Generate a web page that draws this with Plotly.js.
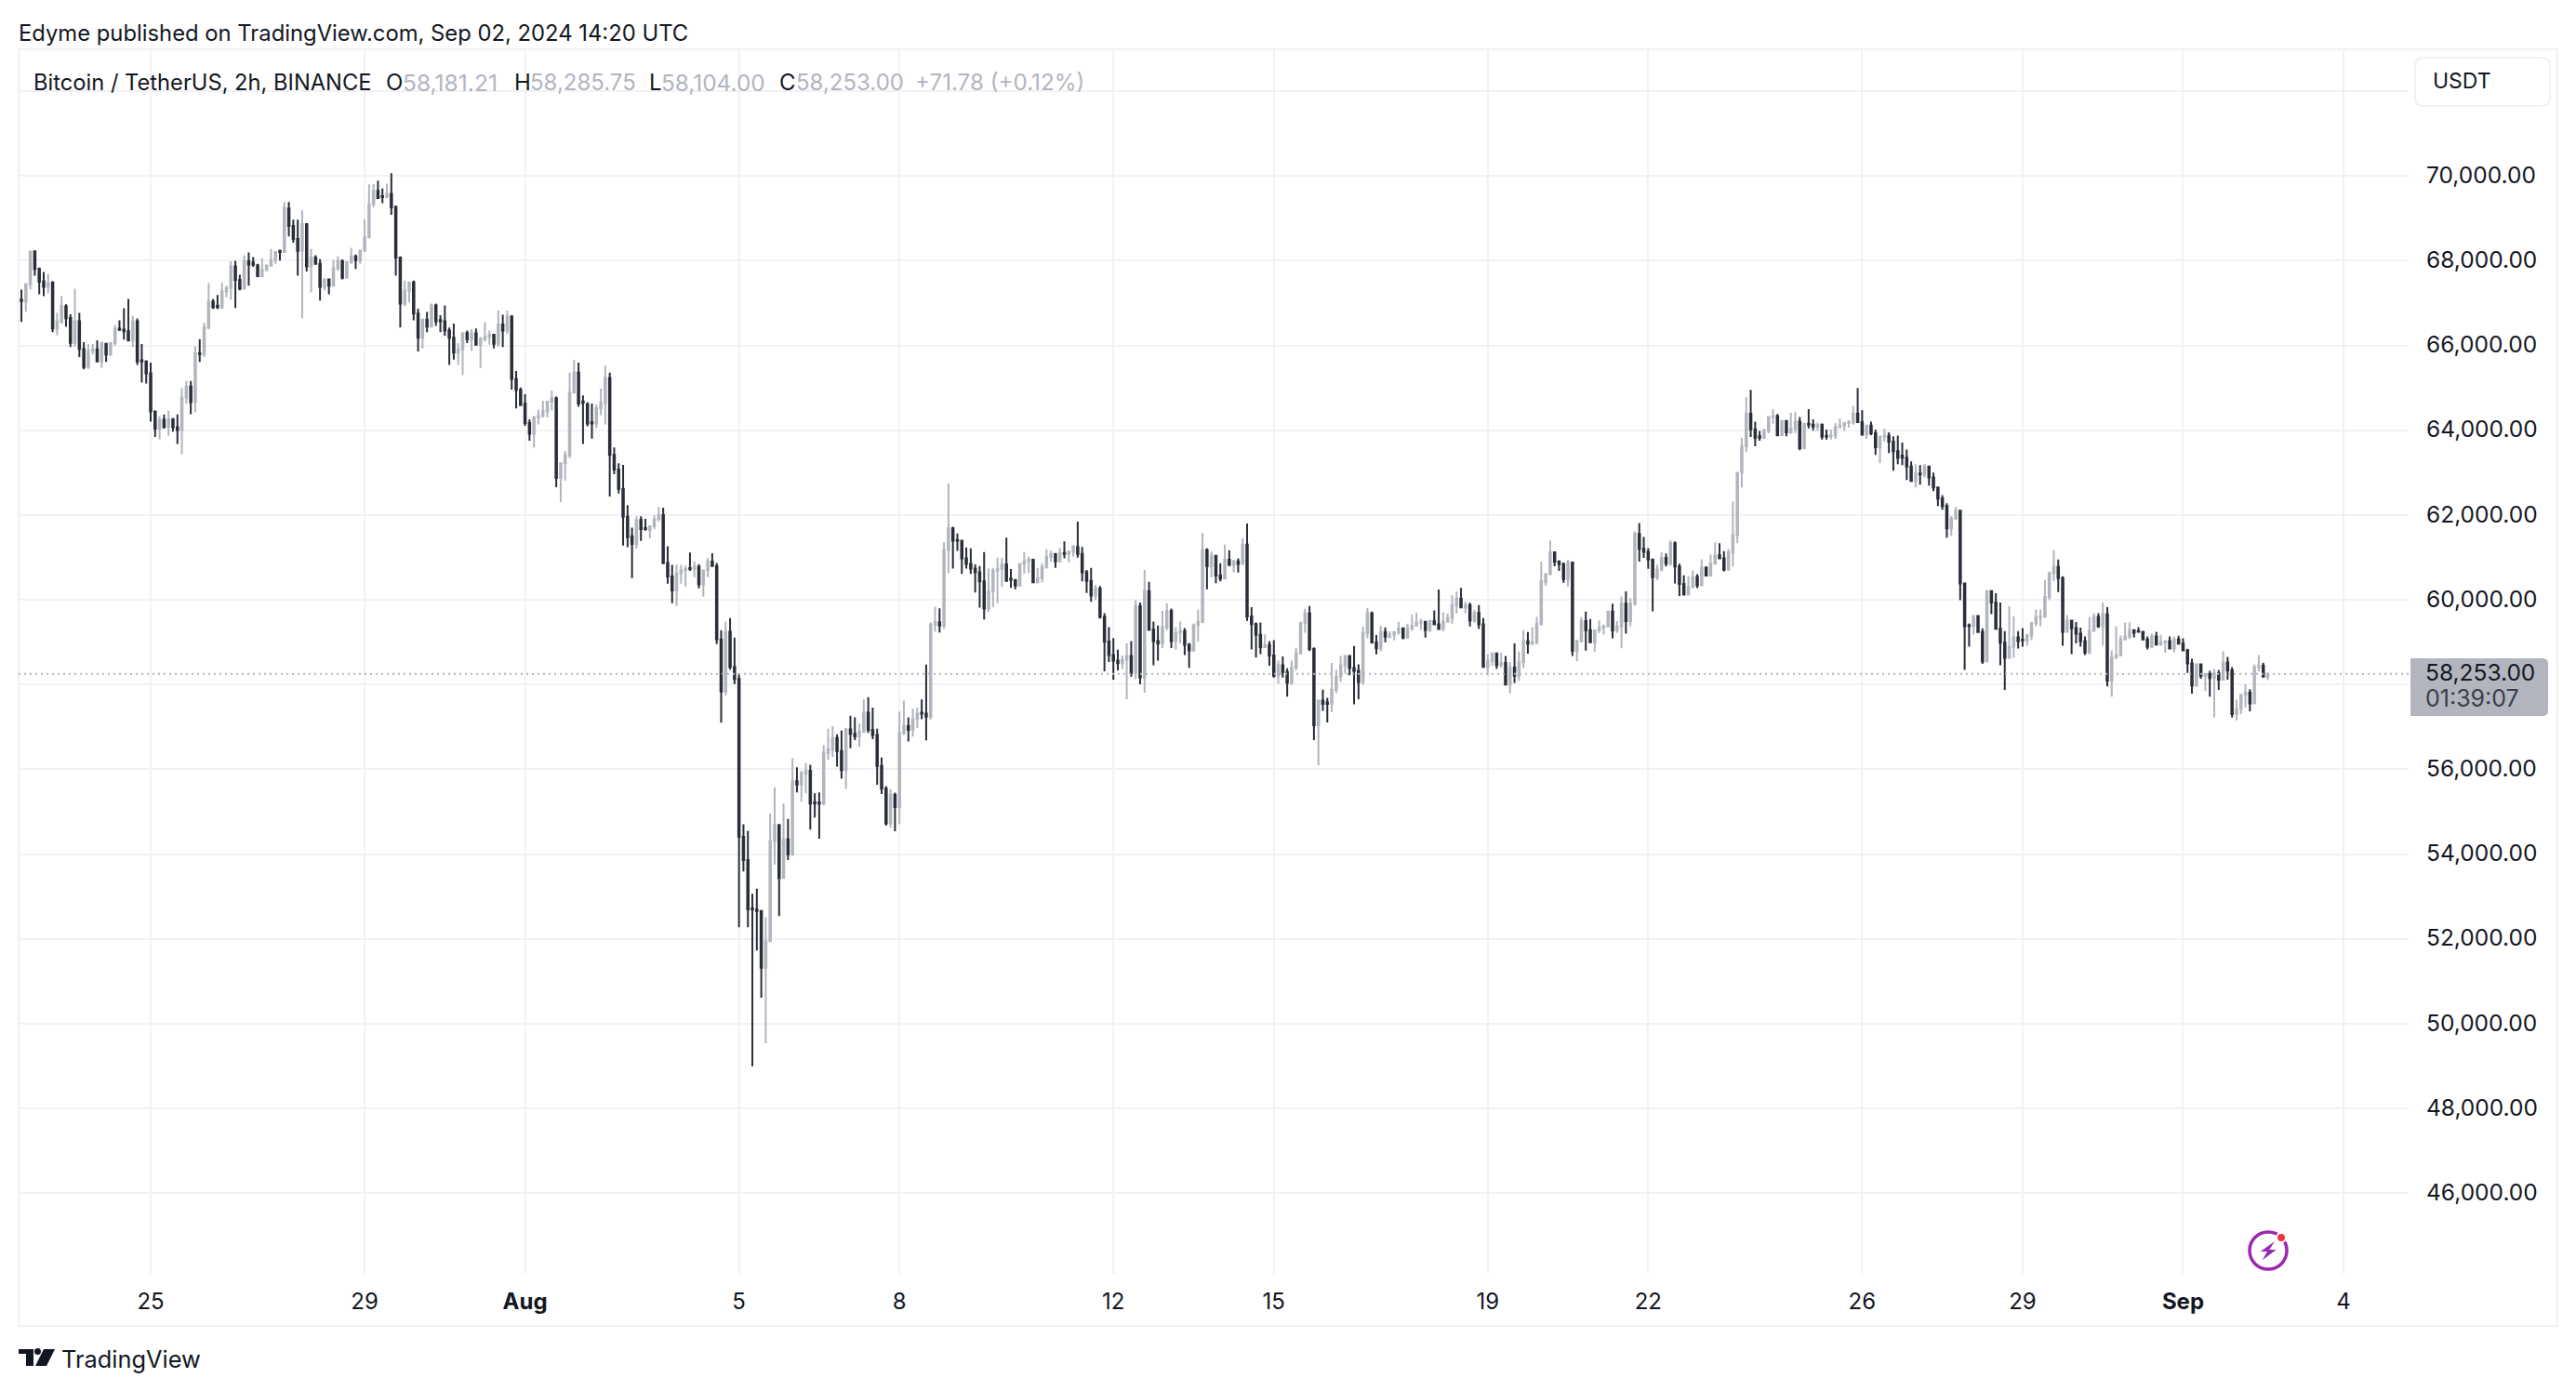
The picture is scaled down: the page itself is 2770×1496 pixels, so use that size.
<!DOCTYPE html>
<html><head><meta charset="utf-8">
<script src="https://cdn.plot.ly/plotly-3.0.1.min.js"></script>
<style>html,body{margin:0;padding:0;background:#fff}#c{width:2770px;height:1496px}</style>
</head><body><div id="c"></div>
<script>
const startTime = '2024-07-22T12:00:00Z';
const barHours = 2;
const opens = [
67060,67080,67040,67440,68220,67808,67515,67383,67486,66400,66550,66920,66650,66064,66570,65917,65492,65873,65910,65624,66040,65785,66057,66394,66372,66335,66123,66570,65650,65624,
65346,64444,64041,64246,64078,64261,64070,64004,64774,65030,64664,65815,
65800,66423,67031,66940,66900,67281,67354,67867,67545,67340,67984,67955,
67890,67633,67779,67880,68014,68234,68204,69230,68820,68512,68234,68864,
67867,68072,67926,67383,67559,67413,67816,67984,67596,67962,68102,68014,
68234,68549,69333,69648,69520,69502,69575,69275,68072,66988,67295,67486,
66753,66181,66606,66445,66944,66600,66570,66350,66181,65829,65910,66291,
66152,66284,66020,66145,66203,66255,66042,66497,66350,66680,65214,64950,
64632,64171,63915,64303,64339,64442,64676,64757,62876,63220,63417,64888,
65357,64680,64610,64190,64157,64522,64647,65232,63417,63074,62620,61961,
61500,61318,61881,61690,61640,61735,61903,61998,60871,60549,60220,60622,
60695,60750,60732,60783,60366,60695,60900,60798,59067,57834,59246,58418,
58134,54412,53860,52725,52693,52660,51322,51946,54307,54688,53439,54347,
53998,55718,55645,55904,55969,55225,55220,55191,56391,56472,56740,56431,
55985,56942,56837,56780,56894,57340,56934,56812,56083,55547,54728,55401,
55109,56861,57023,56934,57186,57340,57315,57242,59416,59473,59392,61177,
61687,61410,61396,60980,60849,60740,60652,60434,59793,60208,60689,60725,
60834,60500,60470,60339,60849,60907,60944,60412,60507,60776,61009,61082,
60907,61104,61082,61140,61250,61082,60652,60448,60099,60266,59596,59013,
58700,58568,58503,58590,58678,58277,59851,58168,60208,59297,59028,58969,
59355,59741,59028,59224,59261,58940,58809,59406,59479,61177,60798,61038,
60572,60499,60944,60827,60907,60849,61301,59610,59428,59173,58882,58933,
58685,58212,58459,58299,58044,58408,58736,59444,59677,58840,57042,57624,
57580,57544,57879,58185,58454,58673,58389,58323,58061,59219,59677,59000,
58855,59241,59131,59182,59233,59328,59110,59328,59386,59459,59481,59292,
59496,59423,59313,59481,59568,59874,60027,59823,59874,59510,59692,59423,
58418,58564,58738,58462,58512,58003,58403,58207,58534,59022,58964,58993,
59437,60420,60609,61119,60900,60842,60493,60879,58804,59022,59496,59284,
59000,59277,59350,59372,59721,59277,59372,59910,59496,59910,61556,61206,
61133,60951,60536,60718,60988,60857,61337,60784,60373,60124,60300,60542,
60344,60762,60571,60850,61050,60981,60710,61113,61531,62996,63619,64388,
64022,63860,63824,63985,64315,64337,63883,64220,63948,64036,64205,63575,
64154,64132,64088,64132,63870,63853,63875,64073,64117,64168,64183,64388,
64190,63897,64110,63926,63597,63853,63868,63729,63509,63400,63355,63143,
62806,62981,62959,63143,62886,62652,62388,62212,61685,61919,62102,60388,
59400,59384,59619,59238,58549,60205,59938,59318,58990,58633,58896,59114,
59060,59041,59158,59449,59588,59610,60069,60630,60775,60513,59245,59508,
59333,59202,59027,58765,59267,59595,59377,59661,58094,58633,58692,59063,
59129,59282,59265,59246,59063,58896,59136,58947,58998,59027,58852,59063,
58968,58808,58502,57978,58480,58211,58247,58153,58262,58116,58524,58335,
57307,57424,57759,57810,57555,58407,58444,58181.21];
const highs = [
67520,67317,67449,68234,68234,67838,67735,67691,67515,66775,67164,66973,66738,67339,66768,66079,66035,66035,66123,66093,66064,66057,66482,66592,66878,67098,66702,66636,66035,65653,
65595,64459,64334,64371,64459,64276,64371,64994,65162,65162,65976,66152,
66533,67471,67098,67193,67486,67413,67984,67999,67669,68131,68197,68087,
67926,68058,67889,68278,68219,68263,69384,69384,68967,68967,69187,68864,
68278,68131,68036,67574,67559,68014,68102,68028,67984,68307,68146,68248,
68981,69802,69802,69890,69700,69817,70066,69282,68102,67530,67500,67530,
66870,66643,66790,66988,66988,66716,66944,66423,66518,66057,66313,66350,
66386,66401,66203,66548,66350,66255,66826,66724,66826,66716,65397,65008,
64852,64259,64339,64486,64698,64698,64939,64793,63242,63513,65357,65657,
65598,64822,64661,64632,64610,64983,65525,65357,63593,63220,63183,62232,
61705,61969,61969,61910,61735,61991,62196,62173,61266,60827,60827,60827,
60805,61113,60915,60842,60710,60988,61098,60871,59286,59489,59570,59108,
58272,54704,54550,53066,53187,52644,52514,54963,55580,54704,55191,54834,
56269,56050,55969,56148,56107,55434,55458,56577,56958,57023,56829,56918,
56983,57267,57226,57080,57648,57705,57461,56958,56277,55604,55531,55450,
57364,57624,57226,57429,57461,57648,58475,59473,59838,59797,61359,62743,
61723,61563,61374,61235,61213,60834,60798,61126,60740,60754,60995,60995,
61468,60725,60470,60864,61126,61017,60944,60754,60864,61191,61162,61082,
61228,61381,61140,61286,61847,61250,60703,60754,60354,60324,59683,59355,
59100,58824,58685,58977,59028,59989,59938,60703,60427,59487,59392,59741,
59916,59793,59355,59487,59334,58984,59443,59771,61578,61213,61140,61053,
60864,61301,61170,60944,60980,61454,61803,59829,59465,59465,59188,59028,
59050,58569,58663,58386,58569,58867,59480,59787,59852,58877,57639,57879,
57690,58513,58345,58673,58687,58673,58913,58476,59364,59808,59721,59168,
59386,59350,59255,59262,59481,59350,59437,59656,59699,59546,59503,59503,
59750,60245,59699,59677,60114,60202,60282,59954,59932,59765,59874,59568,
58716,58753,58746,58746,58673,58527,58971,58782,59284,59241,59350,59605,
60900,60624,61403,61133,60937,60879,60944,60900,59059,59590,59721,59546,
59277,59517,59423,59736,59910,59496,60078,60202,60041,61621,61810,61483,
61221,60966,60828,61113,61091,61399,61377,60850,60578,60564,60688,60608,
60959,60784,61069,61355,61333,61150,61201,62322,62996,63824,64776,64952,
64205,63985,64036,64322,64498,64381,64234,64234,64410,64425,64315,64168,
64498,64256,64183,64161,64014,64014,64168,64278,64183,64241,64571,64996,
64469,64132,64205,64014,63860,64036,63948,63860,63875,63707,63545,63267,
63201,63179,63201,63135,63003,62674,62469,62278,61970,62190,62102,60410,
59443,59633,59633,59326,60212,60212,60156,59938,59260,59850,59610,59260,
59333,59202,59464,59770,59770,60469,60666,61169,60950,60557,59639,59508,
59478,59347,59136,59595,59683,59683,59938,59828,58808,59377,59158,59464,
59464,59282,59355,59267,59136,59209,59246,59173,59041,59136,59136,59151,
59092,58845,58612,58502,58502,58262,58327,58371,58349,58786,58655,58415,
57642,57774,58007,57890,58480,58699,58517,58285.75];
const lows = [
67050,66555,66797,67325,67647,67208,67163,67230,66313,66240,66518,66438,65961,65976,65727,65434,65448,65785,65610,65470,65610,65756,65991,66343,66137,66093,65961,65543,65126,65104,
64202,63843,63784,64041,63872,63968,63674,63432,64627,64378,64422,65610,
65727,66386,66863,66863,66856,67134,67083,66885,67303,67325,67413,67852,
67633,67633,67765,67867,67926,68000,68182,68571,68424,67647,66643,67743,
67251,67911,67061,67303,67208,67398,67765,67559,67596,67926,67808,67926,
68234,68527,69260,69465,69355,69502,69084,67647,66423,66929,67017,66592,
65859,65932,66313,66438,66460,66313,66225,65543,65668,65543,65302,66057,
65873,66020,65470,66093,66020,65932,65976,65961,66276,64957,64517,64591,
64105,63754,63586,64135,64303,64303,64464,62657,62305,62818,63344,64881,
64552,63674,64091,63805,64047,64354,64135,62437,62964,62510,61281,61244,
60513,61208,61390,61632,61449,61669,61852,60842,60381,59920,59854,60381,
60315,60681,60535,60271,60074,60535,60798,58954,57104,57745,58353,58013,
52279,53593,52279,48995,51728,50616,49538,51930,53755,52539,53439,53860,
53958,55458,55239,55434,54582,54866,54363,55158,56229,56294,56066,55783,
55539,56496,56691,56529,56861,56861,56715,55636,55418,54671,54631,54542,
54712,56813,56658,56772,56975,57186,56683,57177,59246,59229,59319,60630,
60740,61155,60609,60740,60609,60171,59814,59538,59720,59829,59924,60303,
60448,60281,60252,60339,60609,60630,60412,60412,60412,60740,60900,60754,
60885,60980,60885,61017,60995,60434,60164,59953,59997,59559,58313,58532,
58117,58335,58372,57658,58190,58131,58008,57811,59268,58459,58568,58860,
59283,58860,58831,58969,58700,58394,58773,59013,59450,60252,60521,60390,
60434,60499,60798,60645,60645,60849,59501,58831,58641,58722,58882,58445,
58168,58022,58168,57716,57993,58335,58730,59226,58789,56693,56096,57384,
57108,57348,57799,58061,58258,58222,57537,57654,58003,59095,58964,58716,
58789,59000,59095,59044,59182,59073,59110,59270,59415,59292,59110,59241,
59408,59313,59262,59459,59437,59677,59808,59677,59372,59459,59313,58418,
58222,58440,58367,58396,57989,57799,58039,58090,58389,58731,58935,58949,
59386,60333,60580,60791,60682,60405,60311,58673,58549,59000,58804,59000,
58782,59219,59182,59350,59095,59219,58855,59204,59372,59859,60900,60988,
60733,59728,60464,60674,60784,60798,60388,60088,60124,60124,60285,60278,
60322,60564,60564,60835,60981,60674,60718,60784,61333,62652,63487,63839,
63619,63751,63795,63926,64154,63860,63883,63860,63912,63934,63531,63575,
64044,64000,63985,63780,63780,63780,63795,64058,63985,64058,64132,64190,
63883,63795,63883,63421,63223,63729,63465,63047,63201,63179,62828,62784,
62652,62718,62886,62696,62564,62212,62124,61465,61509,61883,59992,58344,
58893,59179,59223,58491,58527,59663,59318,58459,57876,58619,58633,58852,
58896,58918,59049,59377,59377,59573,59989,60448,60185,58918,59245,58721,
58969,58896,58699,58721,59245,59340,58918,57956,57715,58611,58677,59049,
59078,59114,59224,59049,58830,58867,58939,58918,58750,58838,58757,58947,
58808,58276,57788,57949,58138,57846,57715,57220,57876,58116,58116,57220,
57155,57307,57460,57373,57548,58313,58167,58104];
const closes = [
67080,67050,67450,68219,67808,67501,67383,67471,66401,66570,66929,66643,66064,66570,65917,65492,65873,65910,65624,66057,65785,66057,66394,66372,66335,66123,66570,65624,65624,65346,
64444,64041,64246,64078,64261,64070,64004,64774,65030,64664,65815,65800,
66423,67031,66900,66900,67281,67354,67867,67545,67340,67984,67911,67911,
67633,67779,67889,68014,68204,68204,69245,68820,68512,68234,68864,67867,
68072,67926,67383,67559,67413,67816,67984,67596,67962,68102,68014,68234,
68549,69333,69648,69480,69502,69575,69260,68072,66988,67295,67486,66753,
66181,66606,66445,66944,66570,66570,66350,66181,65829,65910,66291,66152,
66284,66020,66145,66203,66255,66042,66497,66350,66680,65214,64950,64591,
64171,63915,64303,64339,64449,64676,64757,62876,63220,63417,64888,65357,
64632,64647,64157,64157,64522,64647,65232,63417,63074,62620,61961,61478,
61318,61881,61669,61669,61735,61903,61998,60871,60549,60220,60622,60695,
60732,60732,60783,60366,60695,60900,60798,59071,57834,59246,58418,58134,
54412,53860,52701,52701,52660,51322,51946,54307,54688,53439,54347,53998,
55718,55645,55904,55969,55191,55191,55191,56391,56472,56740,56431,55985,
56942,56837,56780,56894,57340,56934,56812,56083,55547,54728,55401,55109,
56861,57023,56934,57186,57315,57315,57242,59416,59473,59392,61177,61687,
61396,61396,60980,60849,60740,60652,60434,59793,60208,60689,60725,60834,
60448,60470,60339,60849,60907,60944,60412,60507,60776,61009,61082,60907,
61104,61082,61140,61264,61082,60652,60448,60099,60266,59596,59013,58700,
58568,58503,58590,58678,58277,59851,58168,60208,59297,59028,58969,59355,
59741,59028,59224,59261,58940,58809,59406,59479,61177,60798,61038,60572,
60499,60944,60827,60907,60849,61301,59610,59428,59173,58882,58933,58685,
58212,58459,58299,58044,58408,58736,59460,59677,58840,57042,57624,57544,
57544,57879,58185,58454,58673,58389,58323,58061,59219,59677,59000,58855,
59241,59131,59182,59233,59328,59110,59328,59386,59459,59481,59292,59496,
59423,59313,59481,59568,59874,60027,59823,59874,59510,59692,59423,58418,
58564,58738,58462,58512,58003,58403,58207,58534,59022,58964,58993,59437,
60435,60609,61119,60900,60842,60493,60879,58804,59022,59496,59284,59000,
59277,59350,59372,59721,59277,59372,59910,59496,59910,61556,61206,61133,
60951,60536,60718,60988,60857,61337,60784,60373,60124,60300,60542,60344,
60762,60571,60850,61047,60981,60710,61113,61531,62996,63619,64388,64022,
63824,63824,63985,64315,64337,63883,64220,63948,64036,64205,63575,64154,
64132,64088,64132,63853,63853,63875,64073,64117,64168,64183,64388,64190,
63897,64110,63926,63597,63853,63868,63729,63509,63355,63355,63143,62806,
62981,62959,63143,62886,62652,62388,62212,61685,61919,62102,60388,59377,
59384,59619,59238,58549,60205,59938,59318,58990,58633,58896,59114,59027,
59041,59158,59449,59588,59610,60069,60630,60775,60513,59245,59508,59333,
59202,59027,58765,59267,59595,59377,59661,58094,58633,58692,59063,59129,
59282,59224,59246,59063,58896,59136,58947,58998,59027,58852,59063,58968,
58808,58502,57978,58480,58211,58247,58153,58262,58116,58524,58335,57307,
57424,57759,57810,57555,58407,58444,58189,58253];
const priceTicks = [46000,48000,50000,52000,54000,56000,58000,60000,62000,64000,66000,68000,70000,72000];
const priceLabels = ['46,000.00','48,000.00','50,000.00','52,000.00','54,000.00','56,000.00','','60,000.00','62,000.00','64,000.00','66,000.00','68,000.00','70,000.00',''];
const dateTicks = ['2024-07-25','2024-07-29','2024-08-01','2024-08-05','2024-08-08','2024-08-12','2024-08-15','2024-08-19','2024-08-22','2024-08-26','2024-08-29','2024-09-01','2024-09-04'];
const dateLabels = ['25','29','<b>Aug</b>','5','8','12','15','19','22','26','29','<b>Sep</b>','4'];
const lastPrice = 58253;

const times = closes.map((_, i) => new Date(Date.parse(startTime) + i * barHours * 3600000).toISOString());

const L = 20, R = 2590, T = 53, B = 1370;
const px = x => (x - L) / (R - L);
const py = y => (B - y) / (B - T);
const INK = '#131722', UP = '#b2b5be', DOWN = '#2a2e39', GRID = '#f2f2f6', FRAME = '#f0f0f6';
const FONT = 'Inter, "Noto Sans", sans-serif';

function poly(points){ return points.map((p,i)=>(i?'L':'M')+px(p[0])+' '+py(p[1])).join(' ')+' Z'; }
function rrect(x0,y0,x1,y1,rl,rr){
  return 'M'+px(x0+rl)+' '+py(y0)+' L'+px(x1-rr)+' '+py(y0)+' Q'+px(x1)+' '+py(y0)+' '+px(x1)+' '+py(y0+rr)+
   ' L'+px(x1)+' '+py(y1-rr)+' Q'+px(x1)+' '+py(y1)+' '+px(x1-rr)+' '+py(y1)+
   ' L'+px(x0+rl)+' '+py(y1)+' Q'+px(x0)+' '+py(y1)+' '+px(x0)+' '+py(y1-rl)+
   ' L'+px(x0)+' '+py(y0+rl)+' Q'+px(x0)+' '+py(y0)+' '+px(x0+rl)+' '+py(y0)+' Z';
}
function base(o){ return Object.assign({xref:'paper',yref:'paper'},o); }
const shapes = [
  base({type:'rect',x0:px(20),x1:px(2750),y0:py(1426),y1:py(53),line:{color:FRAME,width:2},layer:'below'}),
  {type:'line',xref:'paper',x0:0,x1:1,yref:'y',y0:lastPrice,y1:lastPrice,line:{color:UP,width:2,dash:'2px,4px'},layer:'above'},
  base({type:'path',path:rrect(2592,708,2740,770,0,6),fillcolor:UP,line:{width:0}}),
  base({type:'path',path:rrect(2597,62,2742,114,9,9),fillcolor:'#ffffff',line:{color:FRAME,width:2}}),
  base({type:'circle',x0:px(2419),x1:px(2459),y0:py(1365),y1:py(1325),line:{color:'#9c27b0',width:3.5}}),
  base({type:'path',path:poly([[2446,1335],[2430.7,1346],[2438,1346],[2432.7,1355.3],[2447.7,1344],[2440.3,1344]]),fillcolor:'#9c27b0',line:{width:0}}),
  base({type:'circle',x0:px(2448),x1:px(2458),y0:py(1336),y1:py(1326),fillcolor:'#f23645',line:{color:'#ffffff',width:2}}),
  base({type:'path',path:poly([[20,1451],[36,1451],[36,1469],[28,1469],[28,1456],[20,1456]]),fillcolor:INK,line:{width:0}}),
  base({type:'circle',x0:px(37),x1:px(44),y0:py(1457),y1:py(1450),fillcolor:INK,line:{width:0}}),
  base({type:'path',path:poly([[47,1451],[59,1451],[50,1469],[38,1469]]),fillcolor:INK,line:{width:0}}),
];
function note(text,x,y,color,size,weight){
  return {xref:'paper',yref:'paper',x:px(x),y:py(y),text:text,showarrow:false,xanchor:'left',yanchor:'middle',
    font:{family:FONT,size:size,color:color,weight:weight||400},borderpad:0,borderwidth:0};
}
const annotations = [
  note('Edyme published on TradingView.com, Sep 02, 2024 14:20 UTC',20,35,INK,23.8),
  note('Bitcoin / TetherUS, 2h, BINANCE',36,89,INK,23.7),
  note('O',415,89,INK,24), note('58,181.21',433,89,UP,24.6),
  note('H',553,89,INK,24), note('58,285.75',570,89,UP,24),
  note('L',698,89,INK,24), note('58,104.00',711,89,UP,24.4),
  note('C',838,89,INK,24), note('58,253.00',856,89,UP,24),
  note('+71.78 (+0.12%)',984,89,UP,24.2),
  note('USDT',2616,87,INK,23),
  note('58,253.00',2608,723,INK,24.5),
  note('01:39:07',2608,751,'#3a3e4a',25),
  note('TradingView',66,1461,INK,25.4),
];
const trace = {type:'candlestick',x:times,open:opens,high:highs,low:lows,close:closes,
  increasing:{line:{color:UP,width:2},fillcolor:UP},
  decreasing:{line:{color:DOWN,width:2},fillcolor:DOWN},
  whiskerwidth:0,hoverinfo:'skip',showlegend:false};
const layout = {
  width:2770,height:1496,paper_bgcolor:'#ffffff',plot_bgcolor:'#ffffff',showlegend:false,
  margin:{l:L,r:2770-R,t:T,b:1496-B,pad:0},
  font:{family:FONT,color:INK,size:24},
  xaxis:{type:'date',range:['2024-07-22 12:44:00','2024-09-05 05:13:00'],tickmode:'array',tickvals:dateTicks,ticktext:dateLabels,
    rangeslider:{visible:false},showgrid:true,gridcolor:GRID,gridwidth:2,zeroline:false,showline:false,ticks:'',ticklabelstandoff:13,
    tickfont:{family:FONT,size:24,color:INK},fixedrange:true},
  yaxis:{side:'right',range:[44101,72987],tickmode:'array',tickvals:priceTicks,ticktext:priceLabels,
    showgrid:true,gridcolor:GRID,gridwidth:2,zeroline:false,showline:false,ticks:'',ticklabelstandoff:18,ticklabelshift:-1,
    tickfont:{family:FONT,size:24.5,color:INK},fixedrange:true},
  shapes:shapes,annotations:annotations,hovermode:false,boxgap:0.55
};
Plotly.newPlot('c',[trace],layout,{displayModeBar:false,staticPlot:true});
</script></body></html>
